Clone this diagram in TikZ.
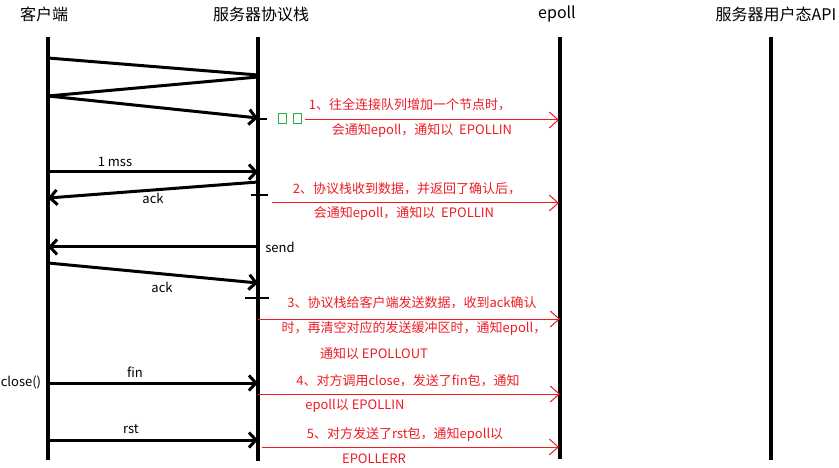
\documentclass[tikz,border=0pt]{standalone}
\usepackage{fontspec}
\setmainfont{Noto Sans CJK SC}
\usetikzlibrary{arrows.meta}
\definecolor{pred}{RGB}{237,28,36}
\definecolor{pgreen}{RGB}{34,177,76}
\tikzset{
  life/.style={line width=4pt},
  msg/.style={line width=3pt},
  msgarrow/.style={msg, -{Straight Barb[length=7pt,width=15pt]}},
  note/.style={pred, line width=1pt, -{Straight Barb[length=9pt,width=16pt]}},
  head/.style={font=\fontsize{16}{19}\selectfont, inner sep=0},
  lbl/.style={font=\fontsize{13}{15}\selectfont, inner sep=0},
  rtxt/.style={text=pred, font=\fontsize{13}{15}\selectfont, inner sep=0},
  ticks/.style={line width=2.5pt},
  gbox/.style={draw=pgreen, line width=1pt, minimum width=8pt, minimum height=10pt, inner sep=0},
}
\begin{document}
\begin{tikzpicture}[x=1pt,y=-1pt]
\useasboundingbox (0,0) rectangle (839,468);
% headers
\node[head] (hc) at (44,14) {客户端};
\node[head] (hs) at (261,14) {服务器协议栈};
\node[head] (he) at (557,14) {epoll};
\node[head] (ha) at (776,14) {服务器用户态API};
% lifelines
\coordinate (ct) at (48,37);   \coordinate (cb) at (48,460);
\coordinate (st) at (258,37);  \coordinate (sb) at (258,461);
\coordinate (et) at (560,37);  \coordinate (eb) at (560,459);
\coordinate (at) at (771,37);  \coordinate (ab) at (771,460);
\draw[life] (ct) -- (cb);
\draw[life] (st) -- (sb);
\draw[life] (et) -- (eb);
\draw[life] (at) -- (ab);
% handshake
\coordinate (c1) at (48,58);  \coordinate (s1) at (258,75);
\coordinate (s2) at (258,77); \coordinate (c2) at (48,96);
\coordinate (s3) at (258,118);
\draw[msg] (c1) -- (s1);
\draw[msg] (s2) -- (c2);
\draw[msgarrow] (c2) -- (s3);
\coordinate (t1a) at (258,119); \coordinate (t1b) at (267,119);
\draw[ticks] (t1a) -- (t1b);
% 1 mss
\coordinate (c4) at (48,172); \coordinate (s4) at (258,172);
\draw[msgarrow] (c4) -- (s4);
\node[lbl] (l4) at (115,162) {1 mss};
% ack
\coordinate (s5) at (258,182); \coordinate (c5) at (48,198);
\draw[msgarrow] (s5) -- (c5);
\node[lbl] (l5) at (153,198) {ack};
\coordinate (t2a) at (251,195); \coordinate (t2b) at (268,195);
\draw[ticks] (t2a) -- (t2b);
% send
\coordinate (s6) at (258,247); \coordinate (c6) at (48,247);
\draw[msgarrow] (s6) -- (c6);
\node[lbl] (l6) at (280,247) {send};
% ack 2
\coordinate (c7) at (48,263); \coordinate (s7) at (258,283);
\draw[msgarrow] (c7) -- (s7);
\node[lbl] (l7) at (162,287) {ack};
\coordinate (t3a) at (245,298); \coordinate (t3b) at (269,298);
\draw[ticks] (t3a) -- (t3b);
% fin
\coordinate (c8) at (48,383); \coordinate (s8) at (258,383);
\draw[msgarrow] (c8) -- (s8);
\node[lbl] (l8) at (135,372) {fin};
\node[lbl] (cl) at (21,382) {close()};
% rst
\coordinate (c9) at (48,440); \coordinate (s9) at (258,440);
\draw[msgarrow] (c9) -- (s9);
\node[lbl] (l9) at (131,429) {rst};
% green boxes
\node[gbox] (g1) at (282,119) {};
\node[gbox] (g2) at (297,119) {};
% red notes
\coordinate (n1a) at (305,120); \coordinate (n1b) at (559,120);
\draw[note] (n1a) -- (n1b);
\node[rtxt] (r1a) at (410,105) {1、往全连接队列增加一个节点时，};
\node[rtxt] (r1b) at (422,131) {会通知epoll，通知以\ \ EPOLLIN};
\coordinate (n2a) at (272,203); \coordinate (n2b) at (559,203);
\draw[note] (n2a) -- (n2b);
\node[rtxt] (r2a) at (407,189) {2、协议栈收到数据，并返回了确认后，};
\node[rtxt] (r2b) at (404,214) {会通知epoll，通知以\ \ EPOLLIN};
\coordinate (n3a) at (258,319); \coordinate (n3b) at (560,319);
\draw[note] (n3a) -- (n3b);
\node[rtxt] (r3a) at (412,303) {3、协议栈给客户端发送数据，收到ack确认};
\node[rtxt] (r3b) at (414,328) {时，再清空对应的发送缓冲区时，通知epoll，};
\node[rtxt] (r3c) at (374,354) {通知以 EPOLLOUT};
\coordinate (n4a) at (258,394); \coordinate (n4b) at (560,394);
\draw[note] (n4a) -- (n4b);
\node[rtxt] (r4a) at (408,381) {4、对方调用close，发送了fin包，通知};
\node[rtxt] (r4b) at (355,406) {epoll以 EPOLLIN};
\coordinate (n5a) at (262,447); \coordinate (n5b) at (559,447);
\draw[note] (n5a) -- (n5b);
\node[rtxt] (r5a) at (405,434) {5、对方发送了rst包，通知epoll以};
\node[rtxt] (r5b) at (374,459) {EPOLLERR};
\end{tikzpicture}
\end{document}
